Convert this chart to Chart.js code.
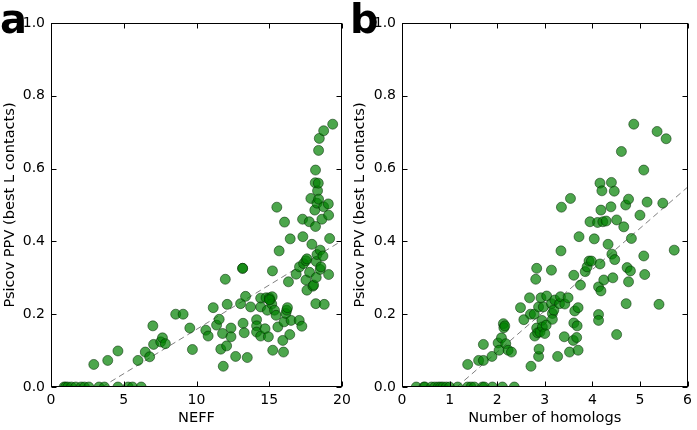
<!DOCTYPE html>
<html>
<head>
<meta charset="utf-8">
<script src="https://cdn.jsdelivr.net/npm/chart.js@4.4.1/dist/chart.umd.min.js"></script>
<style>
  html, body { margin: 0; padding: 0; background: #fff; }
  body { width: 697px; height: 430px; position: relative; overflow: hidden; font-family: "DejaVu Sans", sans-serif; }
  canvas { position: absolute; top: 0; }
  .panel { position: absolute; top: -1px; font: bold 40px "DejaVu Sans", sans-serif; line-height: 40px; color: #000; z-index: 5; }
</style>
</head>
<body>
<canvas id="ca" width="362" height="430" style="left:0px"></canvas>
<canvas id="cb" width="347" height="430" style="left:350px"></canvas>
<div class="panel" style="left:0px">a</div>
<div class="panel" style="left:350px">b</div>
<script>
// ---------- data (panel a: NEFF) ----------
const neffX = [0.9,1.0,1.15,1.4,1.7,2.07,2.3,2.6,3.3,3.67,4.6,5.3,5.6,6.2,
  2.94,3.9,4.6,5.98,6.48,6.78,7.0,7.05,7.54,7.66,7.86,8.57,9.08,9.54,9.72,
  10.64,10.8,11.15,11.38,11.56,11.67,11.79,11.84,11.98,12.07,12.11,12.37,12.37,12.69,
  13.03,13.17,13.2,13.28,13.37,13.49,13.72,14.13,14.13,14.13,14.41,14.41,14.41,14.71,
  14.78,14.87,14.94,15.01,15.06,15.2,15.17,15.22,15.24,15.36,15.47,15.52,15.59,15.68,
  15.93,15.98,16.02,16.05,16.14,16.2,16.25,16.32,16.41,16.44,16.5,16.85,17.08,17.06,
  17.24,17.29,17.31,17.36,17.52,17.59,17.52,17.59,17.75,17.77,18.18,17.86,17.93,18.0,
  18.05,18.13,18.16,18.18,18.2,18.23,18.23,18.28,18.28,18.32,18.37,18.39,18.39,18.44,
  18.5,18.5,18.55,18.62,18.69,18.74,18.74,18.78,19.06,19.08,19.08,19.15,19.36,13.17,15.01];
const neffY = [0,0,0,0,0,0,0,0,0,0,0,0,0,0,
  0.062,0.073,0.099,0.073,0.096,0.083,0.168,0.117,0.124,0.135,0.119,0.2,0.2,0.162,0.103,
  0.156,0.14,0.218,0.17,0.186,0.104,0.147,0.057,0.296,0.113,0.227,0.162,0.138,0.084,
  0.229,0.326,0.175,0.149,0.249,0.081,0.22,0.185,0.168,0.151,0.244,0.22,0.14,0.16,
  0.245,0.211,0.138,0.245,0.239,0.248,0.228,0.319,0.101,0.211,0.197,0.494,0.165,0.374,
  0.128,0.096,0.179,0.453,0.202,0.211,0.218,0.289,0.144,0.407,0.183,0.31,0.33,0.183,
  0.167,0.461,0.413,0.339,0.347,0.352,0.294,0.266,0.454,0.315,0.596,0.518,0.392,0.277,
  0.28,0.486,0.561,0.441,0.229,0.301,0.345,0.505,0.364,0.539,0.56,0.65,0.516,0.683,
  0.376,0.323,0.33,0.461,0.36,0.704,0.495,0.227,0.503,0.472,0.309,0.408,0.722,0.326,0.24];
const fitAX = [3.5, 20];
const fitAY = [0, 0.402];

// ---------- data (panel b: number of homologs) ----------
const homX = [0.3,0.46,0.48,0.62,0.69,0.76,0.81,0.86,0.93,1.0,1.17,1.38,1.45,1.52,1.69,1.73,1.9,2.11,2.36,
  1.38,1.61,1.71,1.71,1.89,2.02,2.04,2.09,2.13,2.14,2.16,2.18,2.23,2.3,2.49,2.56,2.68,2.7,
  2.71,2.78,2.79,2.81,2.83,2.83,2.85,2.87,2.88,2.87,2.9,2.92,2.94,2.95,2.97,3.0,3.03,3.04,
  3.14,3.14,3.16,3.16,3.19,3.21,3.27,3.31,3.33,3.34,3.35,3.41,3.42,3.49,3.52,3.54,3.61,
  3.63,3.61,3.6,3.68,3.67,3.7,3.7,3.72,3.75,3.85,3.89,3.93,3.95,3.98,4.04,4.11,4.13,4.13,
  4.13,4.16,4.16,4.18,4.18,4.2,4.22,4.24,4.29,4.33,4.39,4.4,4.41,4.43,4.46,4.47,4.51,4.51,
  4.61,4.66,4.7,4.71,4.73,4.76,4.76,4.8,4.82,4.87,5.0,5.08,5.08,5.1,5.15,5.36,5.4,5.48,5.55,5.72];
const homY = [0,0,0,0,0,0,0,0,0,0,0,0,0,0,0,0,0,0,0,
  0.062,0.073,0.073,0.117,0.084,0.121,0.101,0.135,0.174,0.163,0.168,0.119,0.101,0.096,0.218,0.185,0.245,0.2,
  0.057,0.2,0.14,0.296,0.326,0.162,0.149,0.084,0.104,0.22,0.151,0.245,0.183,0.165,0.22,0.147,0.17,0.25,
  0.321,0.229,0.202,0.186,0.211,0.239,0.084,0.229,0.248,0.374,0.494,0.138,0.228,0.245,0.096,0.518,0.307,
  0.209,0.176,0.128,0.168,0.136,0.101,0.218,0.413,0.28,0.317,0.33,0.346,0.454,0.346,0.407,0.452,0.275,0.199,
  0.183,0.56,0.338,0.264,0.486,0.539,0.454,0.294,0.456,0.392,0.495,0.562,0.365,0.3,0.538,0.35,0.144,0.459,
  0.647,0.44,0.5,0.229,0.328,0.289,0.516,0.319,0.408,0.722,0.472,0.596,0.36,0.309,0.508,0.702,0.227,0.505,0.682,0.376];
const fitBX = [1.15, 6];
const fitBY = [0, 0.549];

const yTicks = [0, 0.2, 0.4, 0.6, 0.8, 1.0];
const xTicksA = [0, 5, 10, 15, 20];
const xTicksB = [0, 1, 2, 3, 4, 5, 6];

const TICKFONT = { family: "DejaVu Sans", size: 14 };
const TITLEFONT = { family: "DejaVu Sans", size: 14.6 };

const frameTicks = {
  id: 'frameTicks',
  afterDraw(chart) {
    const { ctx, chartArea, scales } = chart;
    const L = Math.round(chartArea.left) + 0.5, R = Math.round(chartArea.right) - 0.5;
    const T = Math.round(chartArea.top) + 0.5, B = Math.round(chartArea.bottom) - 0.5;
    ctx.save();
    ctx.strokeStyle = '#000';
    ctx.lineWidth = 1;
    ctx.beginPath();
    scales.x.ticks.forEach(t => {
      const px = Math.round(scales.x.getPixelForValue(t.value)) + 0.5;
      ctx.moveTo(px, B); ctx.lineTo(px, B - 5);
      ctx.moveTo(px, T); ctx.lineTo(px, T + 5);
    });
    scales.y.ticks.forEach(t => {
      const py = Math.round(scales.y.getPixelForValue(t.value)) + 0.5;
      ctx.moveTo(L, py); ctx.lineTo(L + 5, py);
      ctx.moveTo(R, py); ctx.lineTo(R - 5, py);
    });
    ctx.stroke();
    ctx.strokeRect(L, T, R - L, B - T);
    ctx.restore();
  }
};

function makeChart(id, xs, ys, fx, fy, xTicks, xMax, xTitle, padRight, yWidth) {
  const pts = xs.map((v, i) => ({ x: v, y: ys[i] }));
  const line = fx.map((v, i) => ({ x: v, y: fy[i] }));
  return new Chart(document.getElementById(id), {
    type: 'scatter',
    data: {
      datasets: [
        {
          type: 'line', data: line, showLine: true, pointRadius: 0,
          borderColor: 'rgba(0,0,0,0.5)', borderWidth: 1, borderDash: [6, 4], fill: false, order: 2
        },
        {
          data: pts, pointRadius: 5, pointHoverRadius: 5,
          backgroundColor: 'rgba(0,128,0,0.7)', borderColor: 'rgba(0,40,0,0.75)', borderWidth: 0.7, order: 1
        }
      ]
    },
    options: {
      responsive: false, animation: false, events: [],
      layout: { padding: { left: 0, top: 23, right: padRight, bottom: 0 } },
      plugins: { legend: { display: false }, tooltip: { enabled: false } },
      scales: {
        x: {
          type: 'linear', min: 0, max: xMax,
          afterBuildTicks: s => { s.ticks = xTicks.map(v => ({ value: v })); },
          afterFit: s => { s.height = 43; },
          grid: { display: false, drawTicks: false },
          border: { display: false },
          ticks: { font: TICKFONT, color: '#000', padding: 5, maxRotation: 0, callback: v => String(v) },
          title: { display: true, text: xTitle, font: TITLEFONT, color: '#000', padding: { top: 0, bottom: 3.5 } }
        },
        y: {
          type: 'linear', min: 0, max: 1,
          afterBuildTicks: s => { s.ticks = yTicks.map(v => ({ value: v })); },
          afterFit: s => { s.width = yWidth; },
          grid: { display: false, drawTicks: false },
          border: { display: false },
          ticks: { font: TICKFONT, color: '#000', padding: 6, callback: v => v.toFixed(1) },
          title: { display: true, text: 'Psicov PPV (best L contacts)', font: TITLEFONT, color: '#000', padding: { top: 1, bottom: 0 } }
        }
      }
    },
    plugins: [frameTicks]
  });
}

makeChart('ca', neffX, neffY, fitAX, fitAY, xTicksA, 20, 'NEFF', 362 - 342, 51);
makeChart('cb', homX, homY, fitBX, fitBY, xTicksB, 6, 'Number of homologs', 347 - 341, 52);
</script>
</body>
</html>
